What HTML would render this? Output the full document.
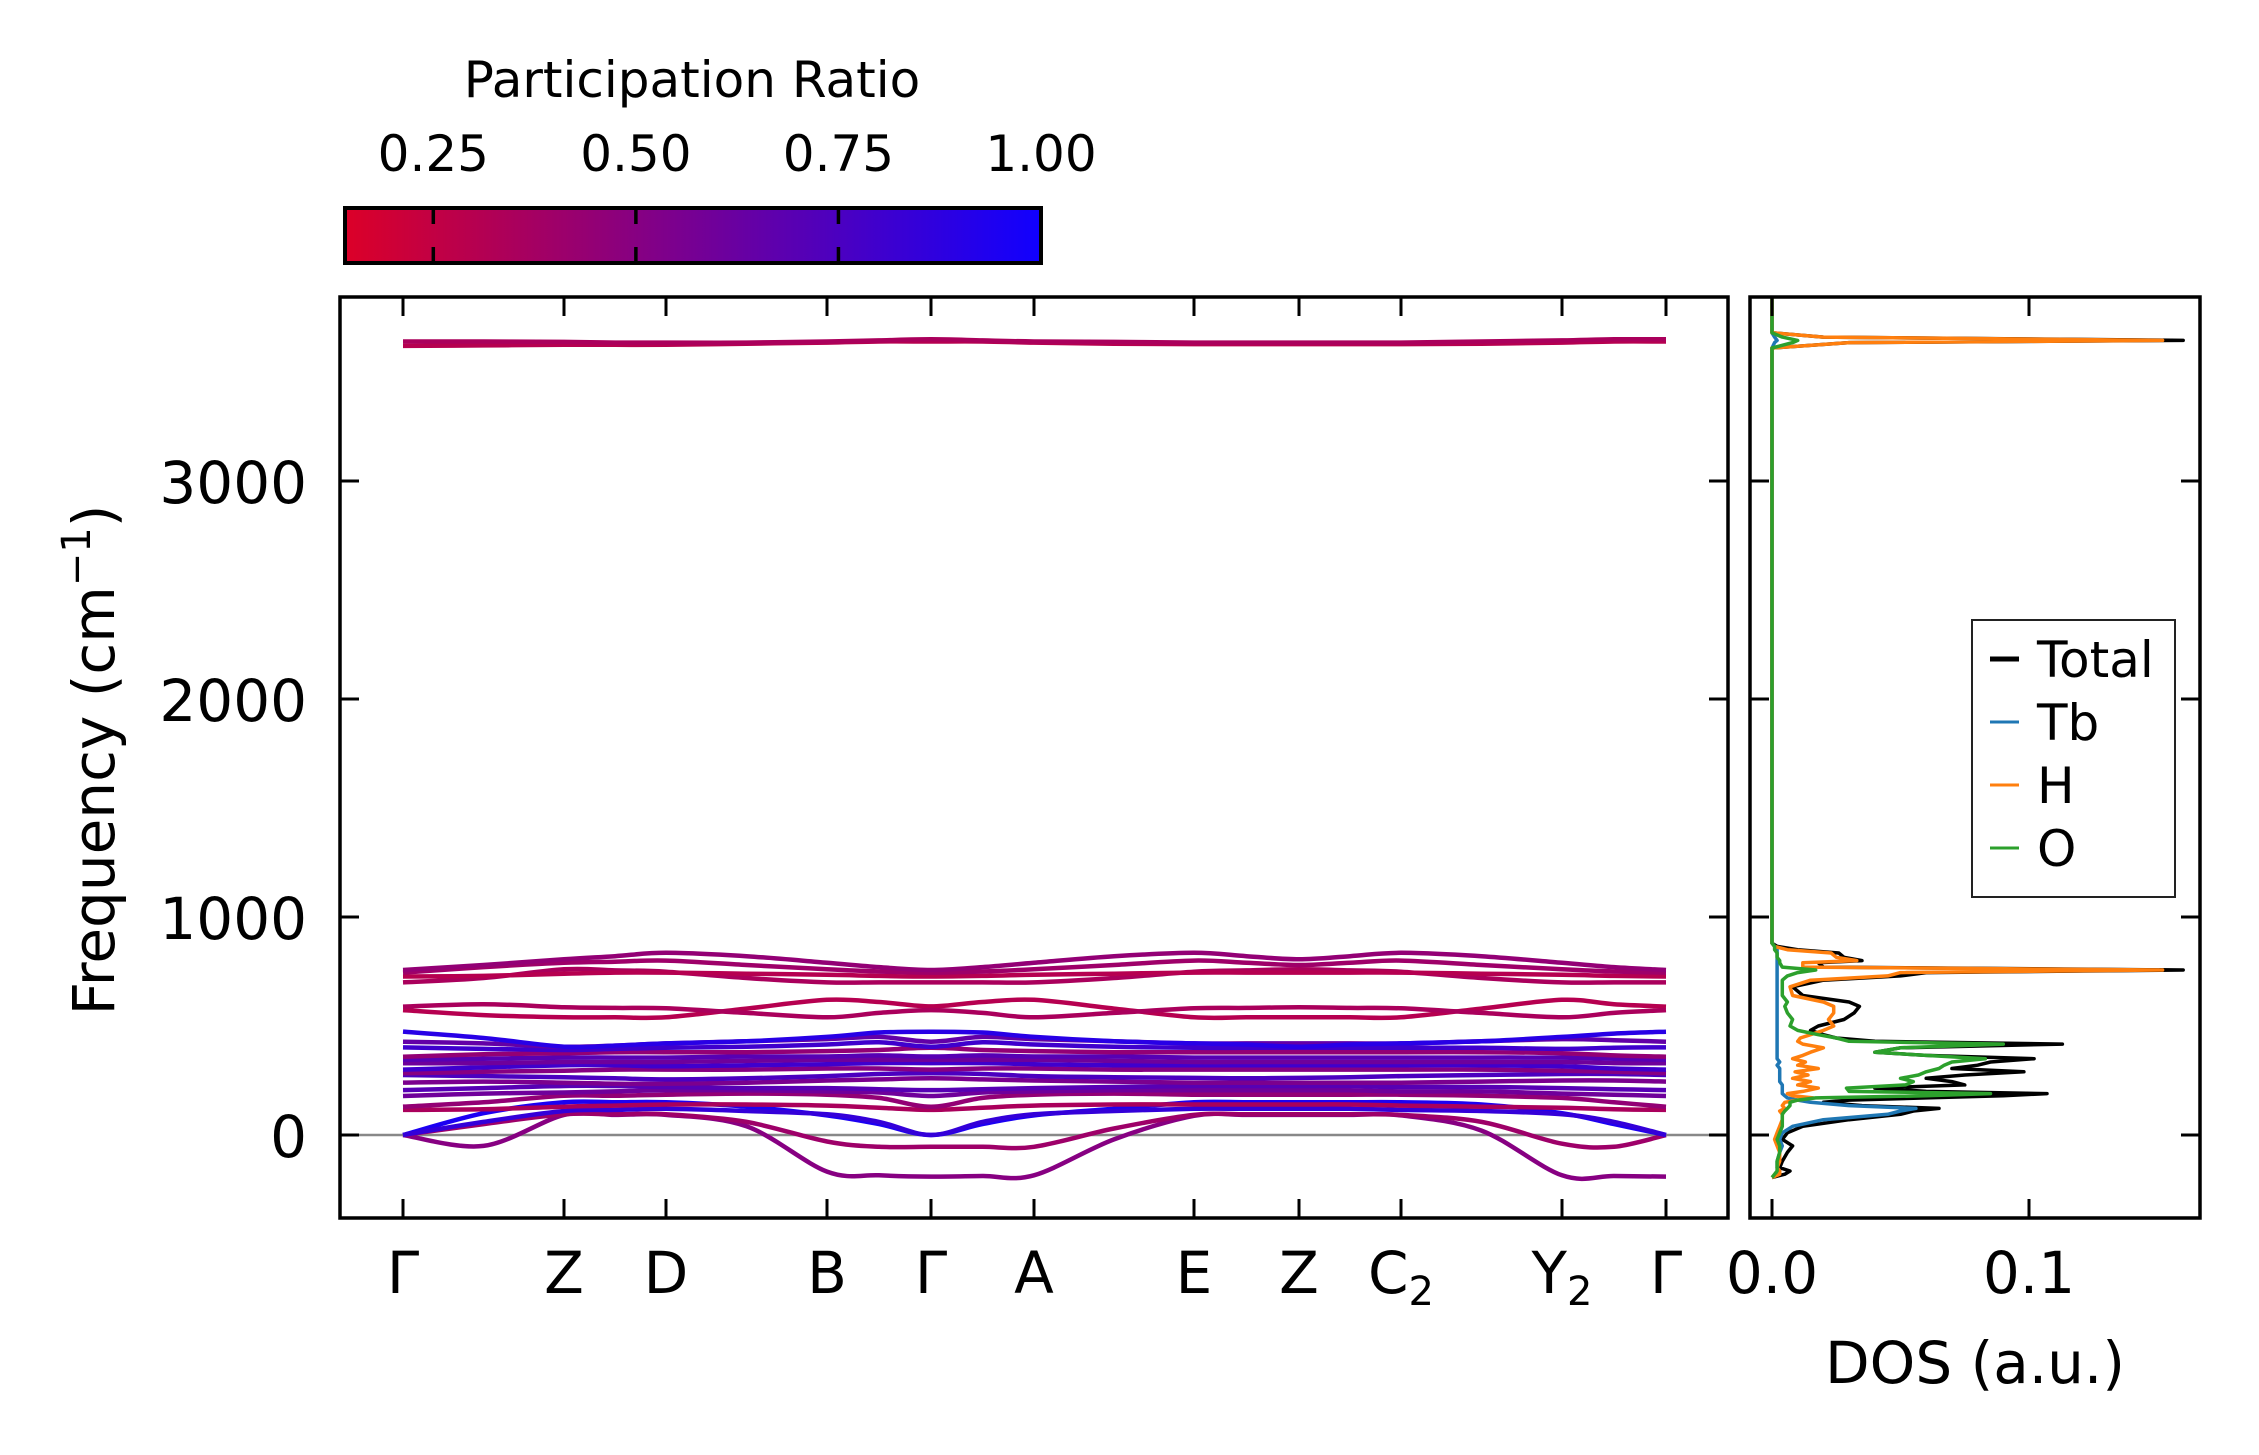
<!DOCTYPE html>
<html><head><meta charset="utf-8"><style>
html,body{margin:0;padding:0;background:#fff;}
svg{display:block;font-family:"DejaVu Sans","Liberation Sans",sans-serif;}
</style></head><body>
<svg id="fig" width="2259" height="1455" viewBox="0 0 2259 1455" xmlns="http://www.w3.org/2000/svg">
<defs>
<linearGradient id="cmap" x1="0" x2="1" y1="0" y2="0">
<stop offset="0" stop-color="rgb(220,0,40)"/>
<stop offset="1" stop-color="rgb(16,0,255)"/>
</linearGradient>
<clipPath id="clipMain"><rect x="340" y="297" width="1388" height="921"/></clipPath>
<clipPath id="clipDos"><rect x="1750" y="297" width="450" height="921"/></clipPath>
</defs>
<g id="colorbar"></g>
<g id="bands"></g>
<g id="dos"></g>
</svg>
<script>
const NS='http://www.w3.org/2000/svg';
// ---- data ----
const kLabels=['Γ','Z','D','B','Γ','A','E','Z','C₂','Y₂','Γ'];
const kDist=[0,161,263,424,528,631,791,896,998,1159,1263];
const yTicks=[0,1000,2000,3000];
const cbTicks=[0.25,0.5,0.75,1.0];
const dosTicks=[0.0,0.1];
const b1=[0,-50,92,92,92,40,-168,-185,-191,-188,-185,-20,88,92,92,92,90,20,-185,-188,-191];
const b2=[0,50,95,95,95,60,-30,-54,-54,-54,-54,30,92,95,95,95,92,60,-40,-54,0];
const b3=[0,100,150,150,150,130,90,50,0,50,90,120,150,150,150,150,150,140,100,50,0];
const b4=[0,60,110,115,120,110,95,60,0,60,95,110,120,120,120,120,115,110,95,60,0];
const b5=[115,118,130,135,140,140,135,125,115,125,135,140,140,140,140,140,135,130,125,118,115];
const b6=[130,150,180,180,185,190,185,170,130,170,185,190,185,185,185,185,185,180,170,150,130];
const b7=[179,190,195,200,205,205,200,195,179,195,200,205,205,205,205,205,200,200,190,185,179];
const b8=[206,215,225,225,220,215,215,210,206,210,215,220,225,225,225,225,220,220,215,210,206];
const b9=[240,245,240,235,235,240,250,255,260,255,250,245,240,240,240,240,240,245,250,250,245];
const b10=[275,270,265,260,255,260,270,280,283,280,270,265,262,260,262,265,270,275,280,280,275];
const b11=[283,290,295,300,300,300,305,305,300,305,305,300,300,300,300,300,300,300,295,290,283];
const b12=[300,310,320,320,315,320,325,330,330,330,325,320,320,320,320,320,320,320,315,305,300];
const b13=[329,330,335,335,335,340,345,345,345,345,345,340,335,335,335,335,335,335,335,330,329];
const b14=[345,350,355,355,355,360,360,365,360,365,360,360,355,355,355,355,355,355,355,350,345];
const b15=[359,370,375,380,380,380,385,390,400,390,385,380,380,380,380,380,380,380,375,365,359];
const b16=[402,395,390,395,400,405,415,425,405,425,415,405,400,400,400,400,400,400,395,400,402];
const b17=[428,420,405,410,420,430,440,450,428,450,440,430,420,420,420,420,420,430,440,435,428];
const b18=[474,445,405,410,420,430,450,470,474,470,450,430,420,415,405,415,420,430,450,465,474];
const b19=[573,550,540,540,540,580,620,610,590,610,620,580,540,540,540,540,540,580,620,600,589];
const b20=[589,600,586,583,581,560,540,560,573,560,540,560,581,583,586,583,581,560,540,560,573];
const b21=[700,720,760,755,749,720,700,700,700,700,700,720,749,755,760,755,749,720,700,700,700];
const b22=[727,730,740,745,745,740,735,730,727,730,735,740,745,745,745,745,745,740,735,730,727];
const b23=[745,770,790,795,800,780,760,750,745,750,760,780,800,790,780,790,800,780,760,750,745];
const b24=[757,780,806,820,836,820,790,770,757,770,790,820,836,820,806,820,836,820,790,770,757];
const b25=[3620,3622,3625,3625,3625,3630,3635,3640,3640,3640,3635,3630,3628,3628,3628,3628,3628,3630,3635,3640,3640];
const b26=[3640,3640,3638,3635,3635,3635,3640,3645,3650,3645,3640,3638,3635,3635,3635,3635,3635,3640,3645,3650,3650];
const bandList=[b1,b2,b3,b4,b5,b6,b7,b8,b9,b10,b11,b12,b13,b14,b15,b16,b17,b18,b19,b20,b21,b22,b23,b24,b25,b26];
const bandPR=[0.5,0.4,0.95,0.85,0.35,0.45,0.6,0.7,0.55,0.75,0.5,0.8,0.6,0.7,0.45,0.8,0.65,0.9,0.3,0.35,0.35,0.3,0.4,0.45,0.3,0.35];
const dosFreq=[-195,-180,-165,-150,-120,-80,-50,-20,10,40,70,95,110,122,135,150,160,170,180,190,200,215,230,245,260,275,290,305,320,335,350,365,380,400,417,430,445,460,480,500,530,560,590,610,640,680,710,730,745,757,770,790,800,815,835,850,865,880,3610,3635,3645,3660,3680,3844];
const dosTotal=[0,0.005,0.007,0.003,0.004,0.006,0.008,0.004,0.006,0.012,0.030,0.050,0.055,0.065,0.035,0.020,0.030,0.060,0.090,0.107,0.060,0.040,0.075,0.070,0.060,0.075,0.098,0.070,0.080,0.085,0.102,0.060,0.040,0.050,0.113,0.040,0.025,0.020,0.015,0.018,0.028,0.032,0.034,0.030,0.012,0.008,0.020,0.050,0.060,0.160,0.020,0.018,0.035,0.028,0.026,0.010,0.002,0,0,0.03,0.160,0.02,0,0];
const dosTb=[0,0.002,0.003,0.002,0.002,0.003,0.004,0.003,0.004,0.008,0.020,0.045,0.050,0.056,0.030,0.015,0.010,0.006,0.005,0.004,0.004,0.004,0.004,0.003,0.003,0.003,0.003,0.003,0.002,0.003,0.002,0.002,0.002,0.002,0.002,0.002,0.002,0.002,0.002,0.002,0.002,0.002,0.002,0.002,0.002,0.002,0.002,0.002,0.002,0.002,0.002,0.002,0.002,0.002,0.002,0.002,0.001,0,0,0.001,0.002,0.001,0,0];
const dosH=[0,0.003,0.003,0.002,0.003,0.003,0.002,0.001,0.002,0.003,0.004,0.004,0.003,0.005,0.004,0.005,0.010,0.016,0.008,0.006,0.012,0.018,0.010,0.015,0.008,0.014,0.009,0.018,0.010,0.013,0.008,0.012,0.015,0.020,0.012,0.010,0.011,0.015,0.020,0.024,0.022,0.024,0.024,0.020,0.008,0.007,0.015,0.045,0.050,0.152,0.012,0.012,0.033,0.025,0.023,0.006,0.001,0,0,0.03,0.152,0.02,0,0];
const dosO=[0,0.001,0.002,0.002,0.002,0.003,0.003,0.002,0.003,0.004,0.004,0.004,0.005,0.006,0.007,0.007,0.010,0.017,0.060,0.085,0.030,0.029,0.052,0.055,0.050,0.057,0.060,0.065,0.067,0.070,0.083,0.060,0.040,0.050,0.090,0.030,0.025,0.018,0.010,0.007,0.008,0.006,0.005,0.006,0.004,0.004,0.004,0.006,0.010,0.017,0.004,0.003,0.003,0.002,0.002,0.001,0.001,0,0,0.008,0.010,0.004,0,0];
// ---- scales ----
const MX0=403,MX1=1666,PY0=1135,PPU=0.218;
const AX={l:340,r:1728,t:297,b:1218};
const DX={l:1750,r:2200};
const kx=d=>MX0+(d/kDist[kDist.length-1])*(MX1-MX0);
const fy=f=>PY0-f*PPU;
const dx=v=>1772+v*2570;
const CB={l:345,r:1041,t:208,b:263,vmin:0.141,vmax:1.0};
const cbx=v=>CB.l+(v-CB.vmin)/(CB.vmax-CB.vmin)*(CB.r-CB.l);
function prColor(p){const t=Math.max(0,Math.min(1,(p-CB.vmin)/(CB.vmax-CB.vmin)));
 return `rgb(${Math.round(220+(16-220)*t)},0,${Math.round(40+(255-40)*t)})`;}
function mk(tag,attrs,parent,text){const e=document.createElementNS(NS,tag);for(const k in attrs)e.setAttribute(k,attrs[k]);if(text!==undefined)e.textContent=text;parent.appendChild(e);return e;}
function sampleX(i){const seg=Math.floor(i/2);if(i%2===0)return kx(kDist[seg]);return kx((kDist[seg]+kDist[seg+1])/2);}
function smoothPath(pts){let d=`M${pts[0][0]},${pts[0][1]}`;
 for(let i=0;i<pts.length-1;i++){const p0=pts[Math.max(0,i-1)],p1=pts[i],p2=pts[i+1],p3=pts[Math.min(pts.length-1,i+2)];
  const c1=[p1[0]+(p2[0]-p0[0])/6,p1[1]+(p2[1]-p0[1])/6],c2=[p2[0]-(p3[0]-p1[0])/6,p2[1]-(p3[1]-p1[1])/6];
  d+=` C${c1[0].toFixed(1)},${c1[1].toFixed(1)} ${c2[0].toFixed(1)},${c2[1].toFixed(1)} ${p2[0].toFixed(1)},${p2[1].toFixed(1)}`;}
 return d;}
// ---- colorbar ----
const cb=document.getElementById('colorbar');
let t=mk('text',{x:692,y:97,'font-size':50,'text-anchor':'middle'},cb,'Participation Ratio');


let r=mk('rect',{x:CB.l,y:CB.t,width:CB.r-CB.l,height:CB.b-CB.t,fill:'url(#cmap)',stroke:'#000','stroke-width':4},cb);


cbTicks.forEach(v=>{const x=cbx(v);
 if(v<1){mk('line',{x1:x,x2:x,y1:CB.t,y2:CB.t+16,stroke:'#000','stroke-width':3.5},cb);mk('line',{x1:x,x2:x,y1:CB.b-16,y2:CB.b,stroke:'#000','stroke-width':3.5},cb);}
 const l=mk('text',{x:x,y:171,'font-size':50,'text-anchor':'middle'},cb,v.toFixed(2));
 
 });
// ---- band plot ----
const bp=document.getElementById('bands');
const zl=mk('line',{x1:AX.l,x2:AX.r,y1:fy(0),y2:fy(0),stroke:'#888','stroke-width':2.5},bp);


const bg=mk('g',{'clip-path':'url(#clipMain)'},bp);
bandList.forEach((b,bi)=>{const pts=b.map((v,i)=>[sampleX(i),fy(v)]);
 const p=mk('path',{d:smoothPath(pts),fill:'none',stroke:prColor(bandPR[bi]),'stroke-width':4.5,'stroke-linecap':'butt'},bg);
 
 });
const fr=mk('rect',{x:AX.l,y:AX.t,width:AX.r-AX.l,height:AX.b-AX.t,fill:'none',stroke:'#000','stroke-width':3.5},bp);


kDist.forEach((d,i)=>{const x=kx(d);
 mk('line',{x1:x,x2:x,y1:AX.b,y2:AX.b-19,stroke:'#000','stroke-width':3},bp);
 mk('line',{x1:x,x2:x,y1:AX.t,y2:AX.t+19,stroke:'#000','stroke-width':3},bp);
 const lab=kLabels[i];const el=mk('text',{x:x,y:1293,'font-size':58,'text-anchor':'middle'},bp);
 if(lab.length>1){el.textContent=lab[0];mk('tspan',{'font-size':40,dy:12},el,'2');}else el.textContent=lab;
 
 });
yTicks.forEach(v=>{const y=fy(v);
 mk('line',{x1:AX.l,x2:AX.l+19,y1:y,y2:y,stroke:'#000','stroke-width':3},bp);
 mk('line',{x1:AX.r,x2:AX.r-19,y1:y,y2:y,stroke:'#000','stroke-width':3},bp);
 const l=mk('text',{x:307,y:y+22,'font-size':58,'text-anchor':'end'},bp,String(v));
 
 });
const yl=mk('text',{x:0,y:0,'font-size':58,'text-anchor':'middle',transform:'translate(114,760) rotate(-90)'},bp);
yl.textContent='Frequency (cm';mk('tspan',{'font-size':40,dy:-24},yl,'−1');mk('tspan',{dy:24},yl,')');


// ---- DOS ----
const dp=document.getElementById('dos');
const dg=mk('g',{'clip-path':'url(#clipDos)'},dp);
[[dosTotal,'#000','dos-total-line'],[dosTb,'#1f77b4','dos-tb-line'],[dosH,'#ff7f0e','dos-h-line'],[dosO,'#2ca02c','dos-o-line']].forEach(([arr,c,n])=>{
 const pts=arr.map((v,i)=>`${dx(v).toFixed(1)},${fy(dosFreq[i]).toFixed(1)}`).join(' ');
 const pl=mk('polyline',{points:pts,fill:'none',stroke:c,'stroke-width':3.5,'stroke-linejoin':'round'},dg);
 
 });
const df=mk('rect',{x:DX.l,y:AX.t,width:DX.r-DX.l,height:AX.b-AX.t,fill:'none',stroke:'#000','stroke-width':3.5},dp);


dosTicks.forEach(v=>{const x=dx(v);
 mk('line',{x1:x,x2:x,y1:AX.b,y2:AX.b-19,stroke:'#000','stroke-width':3},dp);
 mk('line',{x1:x,x2:x,y1:AX.t,y2:AX.t+19,stroke:'#000','stroke-width':3},dp);
 const l=mk('text',{x:x,y:1293,'font-size':58,'text-anchor':'middle'},dp,v.toFixed(1));
 
 });
yTicks.forEach(v=>{const y=fy(v);
 mk('line',{x1:DX.l,x2:DX.l+19,y1:y,y2:y,stroke:'#000','stroke-width':3},dp);
 mk('line',{x1:DX.r,x2:DX.r-19,y1:y,y2:y,stroke:'#000','stroke-width':3},dp);});
const xl=mk('text',{x:1975,y:1383,'font-size':58,'text-anchor':'middle'},dp,'DOS (a.u.)');


// legend
const lg=mk('g',{},dp);


mk('rect',{x:1972,y:620,width:203,height:277,fill:'#fff',stroke:'#222','stroke-width':2},lg);
const legNames=['Total','Tb','H','O'],legCols=['#000','#1f77b4','#ff7f0e','#2ca02c'],legW=[5,3,3,3];
legNames.forEach((n,i)=>{const y=659+i*63;
 mk('line',{x1:1990,x2:2019,y1:y,y2:y,stroke:legCols[i],'stroke-width':legW[i]},lg);
 const e=mk('text',{x:2037,y:y+18,'font-size':50},lg,n);
 
 });
</script>
</body></html>
